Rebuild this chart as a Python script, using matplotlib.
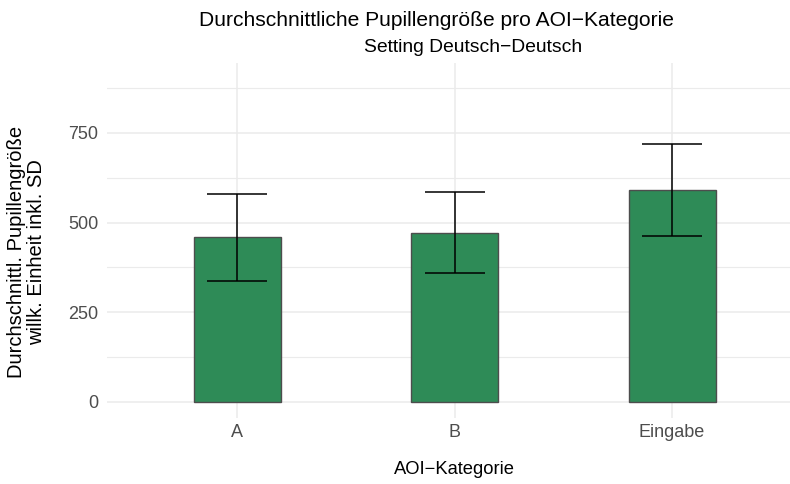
import numpy as np
import matplotlib
matplotlib.use("Agg")
from matplotlib import pyplot as plt

# values
categories = ["A", "B", "Eingabe"]
mean_pupil = [459, 472, 591]
sd_pupil = [121, 112, 128]

major_ticks = [0, 250, 500, 750]
minor_ticks = [125, 375, 625, 875]

bar_colour = "#2E8B57"
grid_colour = "#EBEBEB"

plt.rcParams["font.family"] = ["Liberation Sans", "DejaVu Sans"]

W, H = 790, 484
fig = plt.figure(figsize=(W / 100, H / 100), dpi=100)

# panel in pixel coords (left, right, top, bottom)
px_l, px_r, px_t, px_b = 106.5, 802.5, 63, 418
ax = fig.add_axes([px_l / W, 1 - px_b / H, (px_r - px_l) / W, (px_b - px_t) / H])

x = np.arange(1, len(categories) + 1)
ax.bar(x, mean_pupil, width=0.4, color=bar_colour, edgecolor="#4D4D4D",
       linewidth=1.0, zorder=3)
ax.errorbar(x, mean_pupil, yerr=sd_pupil, fmt="none", ecolor="black",
            elinewidth=1.1, capsize=21.5, capthick=1.1, zorder=4)

ax.set_xlim(0.4, 3.6)
ax.set_ylim(-45, 945)
ax.set_xticks(x)
ax.set_xticklabels(categories)
ax.set_yticks(major_ticks)
ax.set_yticks(minor_ticks, minor=True)

ax.grid(which="major", color=grid_colour, linewidth=1.1, zorder=0)
ax.grid(which="minor", axis="y", color=grid_colour, linewidth=0.8, zorder=0)
for s in ax.spines.values():
    s.set_visible(False)
ax.tick_params(which="both", length=0, labelsize=13, labelcolor="#4D4D4D")
ax.tick_params(axis="x", pad=4)
ax.tick_params(axis="y", pad=6)

fig.text(436.5 / W, 1 - 20 / H, "Durchschnittliche Pupillengröße pro AOI\u2212Kategorie",
         ha="center", va="center", fontsize=15.1, color="black")
fig.text(473 / W, 1 - 47 / H, "Setting Deutsch\u2212Deutsch",
         ha="center", va="center", fontsize=13.9, color="black")
fig.text(454.5 / W, 1 - 470 / H, "AOI\u2212Kategorie",
         ha="center", va="center", fontsize=13.2, color="black")
fig.text(26.5 / W, 1 - 252 / H, "Durchschnittl. Pupillengröße\nwillk. Einheit inkl. SD",
         ha="center", va="center", rotation=90, fontsize=14.5, color="black",
         linespacing=1.05, multialignment="center")

fig.savefig("out.png", dpi=100)
